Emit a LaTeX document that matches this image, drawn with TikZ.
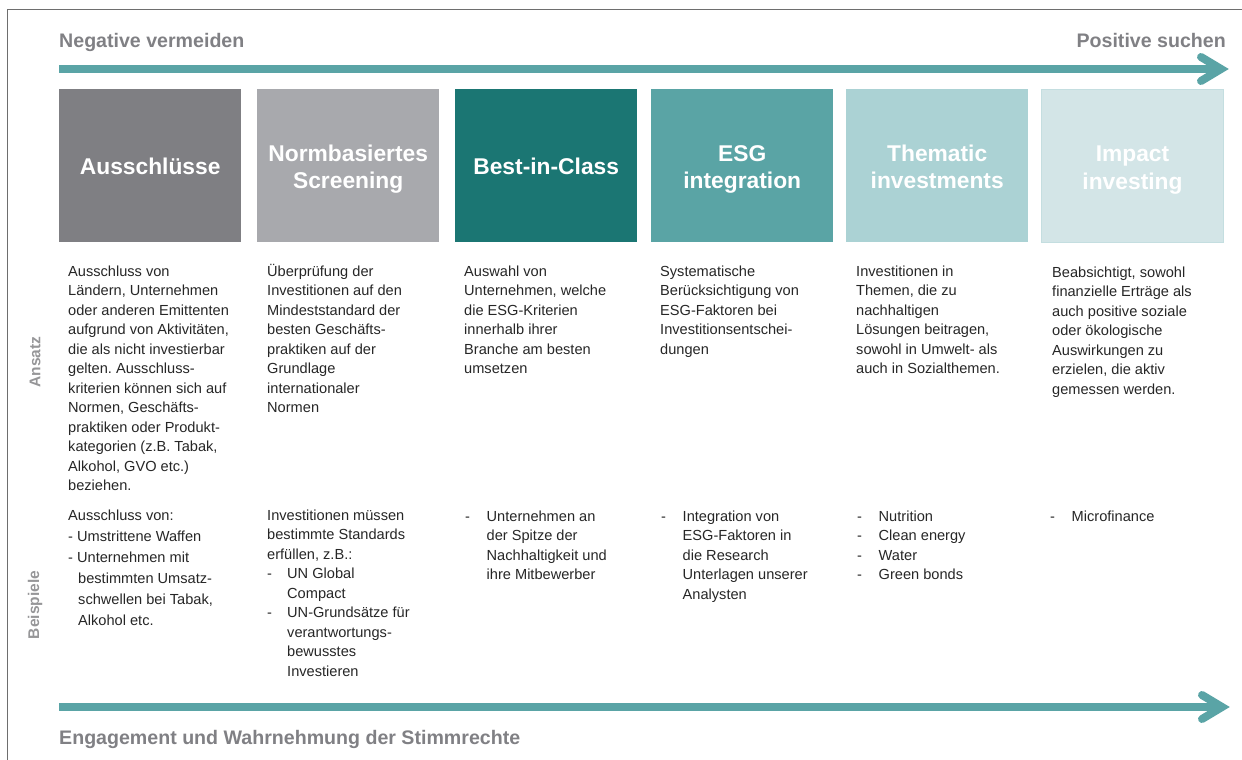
\documentclass[tikz,border=0pt]{standalone}
\usepackage{fontspec}
\setmainfont{Liberation Sans}
\frenchspacing
\definecolor{framegray}{RGB}{110,110,110}
\definecolor{headgray}{RGB}{128,128,132}
\definecolor{labgray}{RGB}{150,150,152}
\definecolor{bodytext}{RGB}{38,38,38}
\definecolor{tealarrow}{RGB}{90,164,166}
\definecolor{cA}{RGB}{127,127,131}
\definecolor{cB}{RGB}{168,169,173}
\definecolor{cC}{RGB}{27,118,115}
\definecolor{cD}{RGB}{90,164,165}
\definecolor{cE}{RGB}{171,210,212}
\definecolor{cF}{RGB}{211,229,231}
\definecolor{cFb}{RGB}{196,222,224}
\newcommand\tb[1]{\begin{tabular}[t]{@{}l@{}}#1\end{tabular}}
\newcommand\tc[1]{\begin{tabular}[t]{@{}c@{}}#1\end{tabular}}
\newcommand\dsh{\makebox[21.5pt][l]{-}}
\newcommand\ind{\hspace*{21.5pt}}
\begin{document}
\begin{tikzpicture}[x=1pt,y=-1pt,
  box/.style={minimum width=182pt, minimum height=153pt, anchor=north west, inner sep=0pt},
  ttl/.style={anchor=base, inner sep=0pt, text=white, font=\fontsize{22.8}{27.5}\selectfont\bfseries},
  body/.style={anchor=base west, inner sep=0pt, text=bodytext, font=\fontsize{14.6}{19.5}\selectfont},
  head/.style={text=headgray, font=\fontsize{19.6}{23}\selectfont\bfseries, inner sep=0pt},
  rowlab/.style={rotate=90, text=labgray, font=\fontsize{15.5}{18}\selectfont\bfseries, inner sep=0pt},
  bar/.style={draw=tealarrow, line width=7.5pt},
  chev/.style={draw=tealarrow, line width=8pt, line cap=round, line join=miter},
  frameline/.style={draw=framegray, line width=1.3pt}]
\useasboundingbox (0,0) rectangle (1242,760);
% frame
\coordinate (fbl) at (7.5,760);
\coordinate (ftl) at (7.5,9.5);
\coordinate (ftr) at (1242,9.5);
\draw[frameline] (fbl) -- (ftl) -- (ftr);
% headers
\node[head, anchor=base west] (neg) at (59,48) {Negative vermeiden};
\node[head, anchor=base east] (pos) at (1226,48) {Positive suchen};
% top arrow
\coordinate (a1s) at (59,69);
\coordinate (a1e) at (1221,69);
\coordinate (a1u) at (1201,57);
\coordinate (a1d) at (1201,81);
\draw[bar] (a1s) -- (a1e);
\draw[chev] (a1u) -- (a1e) -- (a1d);
% boxes
\node[box, fill=cA] (b1) at (59,89) {};
\node[box, fill=cB] (b2) at (257,89) {};
\node[box, fill=cC] (b3) at (455,89) {};
\node[box, fill=cD] (b4) at (651,89) {};
\node[box, fill=cE] (b5) at (846,89) {};
\node[box, fill=cF, draw=cFb, line width=1pt] (b6) at (1041,89) {};
\node[ttl] (t1h) at ([yshift=-8.5pt]b1.center) {Ausschlüsse};
\node[ttl] (t2h) at ([yshift=4.5pt]b2.center) {\tc{Normbasiertes\\Screening}};
\node[ttl] (t3h) at ([yshift=-8.5pt]b3.center) {Best-in-Class};
\node[ttl] (t4h) at ([yshift=4.5pt]b4.center) {\tc{ESG\\integration}};
\node[ttl] (t5h) at ([yshift=4.5pt]b5.center) {\tc{Thematic\\investments}};
\node[ttl] (t6h) at ([yshift=4.5pt]b6.center) {\tc{Impact\\investing}};
% row labels
\node[rowlab] (lansatz) at (35,362) {Ansatz};
\node[rowlab] (lbeisp) at (35,605) {Beispiele};
% Ansatz texts
\node[body] (t1) at (68,276) {\tb{Ausschluss von\\Ländern, Unternehmen\\oder anderen Emittenten\\aufgrund von Aktivitäten,\\die als nicht investierbar\\gelten. Ausschluss-\\kriterien können sich auf\\Normen, Geschäfts-\\praktiken oder Produkt-\\kategorien (z.B. Tabak,\\Alkohol, GVO etc.)\\beziehen.}};
\node[body] (t2) at (267,276) {\tb{Überprüfung der\\Investitionen auf den\\Mindeststandard der\\besten Geschäfts-\\praktiken auf der\\Grundlage\\internationaler\\Normen}};
\node[body] (t3) at (464,276) {\tb{Auswahl von\\Unternehmen, welche\\die ESG-Kriterien\\innerhalb ihrer\\Branche am besten\\umsetzen}};
\node[body] (t4) at (660,276) {\tb{Systematische\\Berücksichtigung von\\ESG-Faktoren bei\\Investitionsentschei-\\dungen}};
\node[body] (t5) at (856,276) {\tb{Investitionen in\\Themen, die zu\\nachhaltigen\\Lösungen beitragen,\\sowohl in Umwelt- als\\auch in Sozialthemen.}};
\node[body] (t6) at (1052,277) {\tb{Beabsichtigt, sowohl\\finanzielle Erträge als\\auch positive soziale\\oder ökologische\\Auswirkungen zu\\erzielen, die aktiv\\gemessen werden.}};
% Beispiele texts
\node[body, font=\fontsize{14.6}{21}\selectfont] (e1) at (68,520) {\tb{Ausschluss von:\\- Umstrittene Waffen\\- Unternehmen mit\\\hspace*{10pt}bestimmten Umsatz-\\\hspace*{10pt}schwellen bei Tabak,\\\hspace*{10pt}Alkohol etc.}};
\node[body] (e2) at (267,520) {\tb{Investitionen müssen\\bestimmte Standards\\erfüllen, z.B.:\\\makebox[20pt][l]{-}UN Global\\\hspace*{20pt}Compact\\\makebox[20pt][l]{-}UN-Grundsätze für\\\hspace*{20pt}verantwortungs-\\\hspace*{20pt}bewusstes\\\hspace*{20pt}Investieren}};
\node[body] (e3) at (465,521) {\tb{\dsh Unternehmen an\\\ind der Spitze der\\\ind Nachhaltigkeit und\\\ind ihre Mitbewerber}};
\node[body] (e4) at (661,521) {\tb{\dsh Integration von\\\ind ESG-Faktoren in\\\ind die Research\\\ind Unterlagen unserer\\\ind Analysten}};
\node[body] (e5) at (857,521) {\tb{\dsh Nutrition\\\dsh Clean energy\\\dsh Water\\\dsh Green bonds}};
\node[body] (e6) at (1050,521) {\tb{\dsh Microfinance}};
% bottom arrow
\coordinate (a2s) at (59,707);
\coordinate (a2e) at (1222,707);
\coordinate (a2u) at (1202,695);
\coordinate (a2d) at (1202,719);
\draw[bar] (a2s) -- (a2e);
\draw[chev] (a2u) -- (a2e) -- (a2d);
\node[head, anchor=base west] (eng) at (59,744) {Engagement und Wahrnehmung der Stimmrechte};
\end{tikzpicture}
\end{document}
